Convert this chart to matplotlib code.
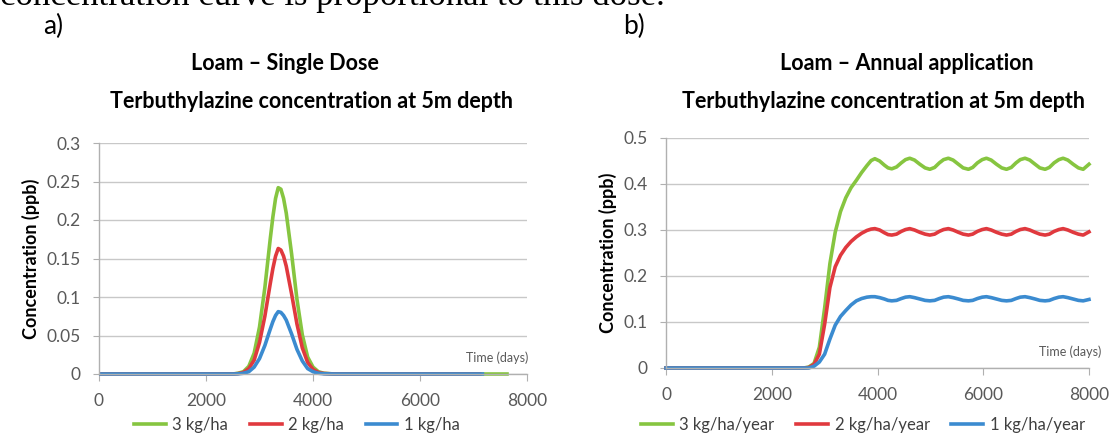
import matplotlib
matplotlib.use('Agg')
import matplotlib.pyplot as plt
from matplotlib.lines import Line2D

plt.rcParams['font.family'] = ['Lato', 'DejaVu Sans']

# ---- a) single dose ----
days_a = [0, 2500, 2600, 2700, 2800, 2900, 3000, 3100, 3200, 3250, 3300, 3350, 3400,
          3450, 3500, 3600, 3700, 3800, 3900, 4000, 4100, 4200, 4400]
green_a = [0, 0, 0.001, 0.003, 0.010, 0.027, 0.061, 0.112, 0.175, 0.204, 0.228, 0.242, 0.240,
           0.228, 0.209, 0.156, 0.097, 0.051, 0.022, 0.009, 0.003, 0.001, 0]
red_a = [0, 0, 0.0005, 0.002, 0.007, 0.018, 0.041, 0.075, 0.117, 0.137, 0.153, 0.163, 0.161,
         0.153, 0.140, 0.104, 0.065, 0.034, 0.015, 0.006, 0.002, 0.0007, 0]
blue_a = [0, 0, 0.0002, 0.001, 0.003, 0.009, 0.020, 0.037, 0.058, 0.068, 0.076, 0.081, 0.080,
          0.076, 0.070, 0.052, 0.032, 0.017, 0.007, 0.003, 0.001, 0.0003, 0]
end_a = [7660, 7150, 7200]   # where each flat line stops
labels_a = ['3 kg/ha', '2 kg/ha', '1 kg/ha']

# ---- b) annual application ----
days_b = [0, 2600, 2700, 2800, 2900, 3000, 3100, 3200, 3300, 3400, 3500, 3600, 3700,
          3800, 3880, 3950, 4040, 4130, 4200, 4270, 4360, 4450, 4530, 4610,
          4700, 4800, 4900, 4990, 5080, 5170, 5250, 5340,
          5430, 5530, 5620, 5720, 5800, 5890, 5980, 6060,
          6150, 6250, 6350, 6440, 6530, 6620, 6700, 6790,
          6880, 6980, 7070, 7170, 7250, 7340, 7430, 7510,
          7600, 7700, 7800, 7890, 8000]
green_b = [0, 0, 0.002, 0.010, 0.045, 0.130, 0.227, 0.295, 0.340, 0.370, 0.392, 0.408, 0.425,
           0.440, 0.451, 0.455, 0.450, 0.441, 0.435, 0.433, 0.437, 0.446, 0.453, 0.456,
           0.452, 0.443, 0.435, 0.432, 0.436, 0.446, 0.453, 0.456,
           0.452, 0.443, 0.435, 0.432, 0.436, 0.446, 0.453, 0.456,
           0.452, 0.443, 0.435, 0.432, 0.436, 0.446, 0.453, 0.456,
           0.452, 0.443, 0.435, 0.432, 0.436, 0.446, 0.453, 0.456,
           0.452, 0.443, 0.435, 0.432, 0.443]
red_b = [0, 0, 0.001, 0.008, 0.030, 0.095, 0.175, 0.220, 0.245, 0.262, 0.275, 0.285, 0.293,
         0.299, 0.302, 0.303, 0.300, 0.294, 0.290, 0.289, 0.291, 0.297, 0.301, 0.303,
         0.300, 0.295, 0.291, 0.289, 0.291, 0.297, 0.301, 0.303,
         0.300, 0.295, 0.291, 0.289, 0.291, 0.297, 0.301, 0.303,
         0.300, 0.295, 0.291, 0.289, 0.291, 0.297, 0.301, 0.303,
         0.300, 0.295, 0.291, 0.289, 0.291, 0.297, 0.301, 0.303,
         0.300, 0.295, 0.291, 0.289, 0.296]
blue_b = [0, 0, 0, 0.004, 0.013, 0.030, 0.063, 0.093, 0.112, 0.125, 0.137, 0.146, 0.151,
          0.154, 0.155, 0.155, 0.153, 0.150, 0.147, 0.146, 0.147, 0.151, 0.154, 0.155,
          0.153, 0.150, 0.147, 0.146, 0.147, 0.151, 0.154, 0.155,
          0.153, 0.150, 0.147, 0.146, 0.147, 0.151, 0.154, 0.155,
          0.153, 0.150, 0.147, 0.146, 0.147, 0.151, 0.154, 0.155,
          0.153, 0.150, 0.147, 0.146, 0.147, 0.151, 0.154, 0.155,
          0.153, 0.150, 0.147, 0.146, 0.149]
labels_b = ['3 kg/ha/year', '2 kg/ha/year', '1 kg/ha/year']

colors = ['#86c540', '#e0393e', '#3b8bd0']
grey_txt = '#595959'

fig = plt.figure(figsize=(11.14, 4.37), dpi=100)

# clipped sentence of the surrounding document
fig.text(0.0, 1 - 5/437, 'concentration curve is proportional to this dose.',
         family=['Liberation Serif', 'DejaVu Serif'], fontsize=25, va='baseline', ha='left')


def style_axes(ax, ymax, ystep, yticklabels):
    ax.set_xlim(0, 8000)
    ax.set_ylim(0, ymax)
    ax.set_xticks([0, 2000, 4000, 6000, 8000])
    ax.set_yticks([i * ystep for i in range(len(yticklabels))])
    ax.set_yticklabels(yticklabels)
    for s in ['top', 'right']:
        ax.spines[s].set_visible(False)
    for s in ['left', 'bottom']:
        ax.spines[s].set_color('#b0b0b0')
        ax.spines[s].set_linewidth(1.0)
    ax.grid(axis='y', color='#c8c8c8', linewidth=1.0)
    ax.set_axisbelow(True)
    ax.tick_params(axis='x', direction='out', length=5, color='#b0b0b0', pad=9,
                   labelsize=12.5, labelcolor=grey_txt)
    ax.tick_params(axis='y', direction='out', length=4, color='#b0b0b0', pad=9,
                   labelsize=12.5, labelcolor=grey_txt)
    ax.set_ylabel('Concentration (ppb)', fontsize=13, fontweight='bold', labelpad=5)


# ---- panel a ----
ax1 = fig.add_axes([99/1114, 1 - 374/437, 428/1114, 231/437])
style_axes(ax1, 0.3, 0.05, ['0', '0.05', '0.1', '0.15', '0.2', '0.25', '0.3'])
for ys, end, c in zip([green_a, red_a, blue_a], end_a, colors):
    ax1.plot(days_a + [end], ys + [0], color=c, linewidth=2.6, clip_on=False,
             solid_capstyle='butt')
ax1.text(0.93, 0.069, 'Time (days)', transform=ax1.transAxes, ha='center', va='center',
         fontsize=9, color=grey_txt)
fig.text(53/1114, 1 - 26/437, 'a)', fontsize=19, ha='center', va='center')
fig.text(285/1114, 1 - 64/437, 'Loam – Single Dose', fontsize=15.5, fontweight='bold',
         ha='center', va='center')
fig.text(312/1114, 1 - 102/437, 'Terbuthylazine concentration at 5m depth', fontsize=15.5,
         fontweight='bold', ha='center', va='center')
h1 = [Line2D([], [], color=c, linewidth=2.6) for c in colors]
ax1.legend(h1, labels_a, loc='center', bbox_to_anchor=(297/1114, 1 - 425/437),
           bbox_transform=fig.transFigure, ncol=3, frameon=False, fontsize=12,
           handlelength=1.9, handletextpad=0.4, columnspacing=1.3, labelcolor='#404040')

# ---- panel b ----
ax2 = fig.add_axes([666/1114, 1 - 368/437, 423/1114, 230/437])
style_axes(ax2, 0.5, 0.1, ['0', '0.1', '0.2', '0.3', '0.4', '0.5'])
for ys, c in zip([green_b, red_b, blue_b], colors):
    ax2.plot(days_b, ys, color=c, linewidth=2.6, clip_on=False)
ax2.text(0.955, 0.07, 'Time (days)', transform=ax2.transAxes, ha='center', va='center',
         fontsize=9, color=grey_txt)
fig.text(634/1114, 1 - 26/437, 'b)', fontsize=19, ha='center', va='center')
fig.text(907/1114, 1 - 64/437, 'Loam – Annual application', fontsize=15.5, fontweight='bold',
         ha='center', va='center')
fig.text(884/1114, 1 - 102/437, 'Terbuthylazine concentration at 5m depth', fontsize=15.5,
         fontweight='bold', ha='center', va='center')
h2 = [Line2D([], [], color=c, linewidth=2.6) for c in colors]
ax2.legend(h2, labels_b, loc='center', bbox_to_anchor=(863/1114, 1 - 425/437),
           bbox_transform=fig.transFigure, ncol=3, frameon=False, fontsize=12,
           handlelength=1.9, handletextpad=0.4, columnspacing=1.3, labelcolor='#404040')

fig.savefig('out.png', dpi=100)
